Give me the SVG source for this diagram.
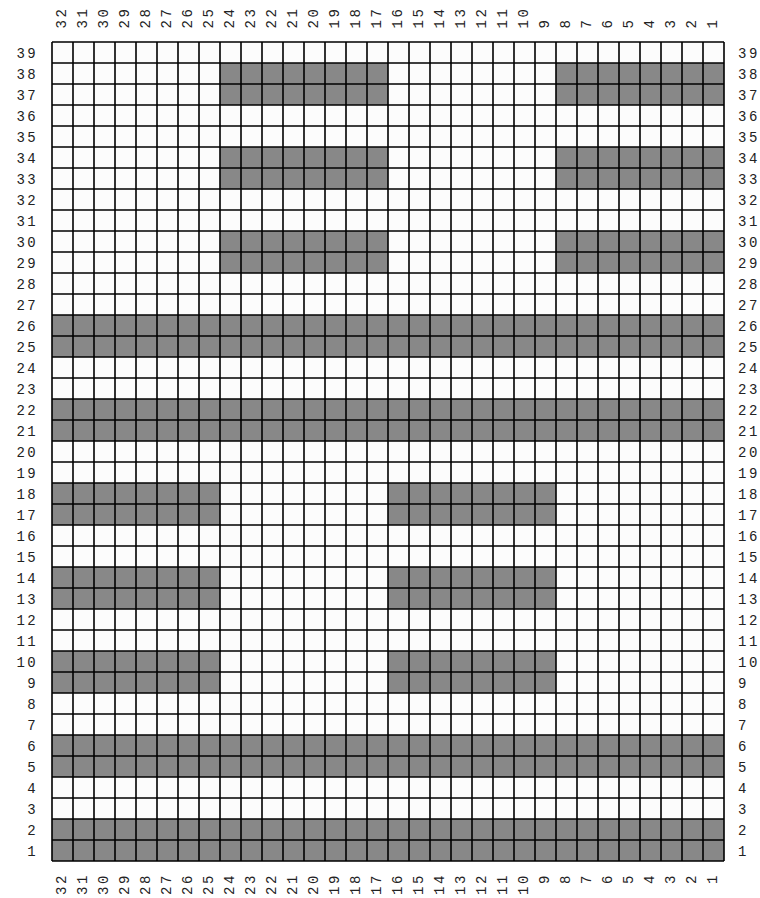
<svg xmlns="http://www.w3.org/2000/svg" width="760" height="898" viewBox="0 0 760 898">
<style>
.lbl{font-family:"Liberation Mono","DejaVu Sans Mono",monospace;font-size:14px;letter-spacing:2.5px;fill:#222}
.on{fill:#888888}
.grid{stroke:#000;stroke-width:1.6;fill:none}
</style>
<rect x="0" y="0" width="760" height="898" fill="#ffffff"/>
<g id="board">
<rect x="52" y="42" width="672" height="819" fill="#fcfcfc"/>
<g id="filled">
<rect class="on" x="220" y="63" width="168" height="42"/>
<rect class="on" x="556" y="63" width="168" height="42"/>
<rect class="on" x="220" y="147" width="168" height="42"/>
<rect class="on" x="556" y="147" width="168" height="42"/>
<rect class="on" x="220" y="231" width="168" height="42"/>
<rect class="on" x="556" y="231" width="168" height="42"/>
<rect class="on" x="52" y="315" width="672" height="42"/>
<rect class="on" x="52" y="399" width="672" height="42"/>
<rect class="on" x="52" y="483" width="168" height="42"/>
<rect class="on" x="388" y="483" width="168" height="42"/>
<rect class="on" x="52" y="567" width="168" height="42"/>
<rect class="on" x="388" y="567" width="168" height="42"/>
<rect class="on" x="52" y="651" width="168" height="42"/>
<rect class="on" x="388" y="651" width="168" height="42"/>
<rect class="on" x="52" y="735" width="672" height="42"/>
<rect class="on" x="52" y="819" width="672" height="42"/>
</g>
<path class="grid" d="M52 42V861M73 42V861M94 42V861M115 42V861M136 42V861M157 42V861M178 42V861M199 42V861M220 42V861M241 42V861M262 42V861M283 42V861M304 42V861M325 42V861M346 42V861M367 42V861M388 42V861M409 42V861M430 42V861M451 42V861M472 42V861M493 42V861M514 42V861M535 42V861M556 42V861M577 42V861M598 42V861M619 42V861M640 42V861M661 42V861M682 42V861M703 42V861M724 42V861M52 42H724M52 63H724M52 84H724M52 105H724M52 126H724M52 147H724M52 168H724M52 189H724M52 210H724M52 231H724M52 252H724M52 273H724M52 294H724M52 315H724M52 336H724M52 357H724M52 378H724M52 399H724M52 420H724M52 441H724M52 462H724M52 483H724M52 504H724M52 525H724M52 546H724M52 567H724M52 588H724M52 609H724M52 630H724M52 651H724M52 672H724M52 693H724M52 714H724M52 735H724M52 756H724M52 777H724M52 798H724M52 819H724M52 840H724M52 861H724"/>
</g>
<g id="row-labels-left" class="lbl">
<text x="16.4" y="57.5">39</text><text x="16.4" y="78.5">38</text><text x="16.4" y="99.5">37</text><text x="16.4" y="120.5">36</text><text x="16.4" y="141.5">35</text><text x="16.4" y="162.5">34</text><text x="16.4" y="183.5">33</text><text x="16.4" y="204.5">32</text><text x="16.4" y="225.5">31</text><text x="16.4" y="246.5">30</text><text x="16.4" y="267.5">29</text><text x="16.4" y="288.5">28</text><text x="16.4" y="309.5">27</text><text x="16.4" y="330.5">26</text><text x="16.4" y="351.5">25</text><text x="16.4" y="372.5">24</text><text x="16.4" y="393.5">23</text><text x="16.4" y="414.5">22</text><text x="16.4" y="435.5">21</text><text x="16.4" y="456.5">20</text><text x="16.4" y="477.5">19</text><text x="16.4" y="498.5">18</text><text x="16.4" y="519.5">17</text><text x="16.4" y="540.5">16</text><text x="16.4" y="561.5">15</text><text x="16.4" y="582.5">14</text><text x="16.4" y="603.5">13</text><text x="16.4" y="624.5">12</text><text x="16.4" y="645.5">11</text><text x="16.4" y="666.5">10</text><text x="27.3" y="687.5">9</text><text x="27.3" y="708.5">8</text><text x="27.3" y="729.5">7</text><text x="27.3" y="750.5">6</text><text x="27.3" y="771.5">5</text><text x="27.3" y="792.5">4</text><text x="27.3" y="813.5">3</text><text x="27.3" y="834.5">2</text><text x="27.3" y="855.5">1</text>
</g>
<g id="row-labels-right" class="lbl">
<text x="738" y="57.5">39</text><text x="738" y="78.5">38</text><text x="738" y="99.5">37</text><text x="738" y="120.5">36</text><text x="738" y="141.5">35</text><text x="738" y="162.5">34</text><text x="738" y="183.5">33</text><text x="738" y="204.5">32</text><text x="738" y="225.5">31</text><text x="738" y="246.5">30</text><text x="738" y="267.5">29</text><text x="738" y="288.5">28</text><text x="738" y="309.5">27</text><text x="738" y="330.5">26</text><text x="738" y="351.5">25</text><text x="738" y="372.5">24</text><text x="738" y="393.5">23</text><text x="738" y="414.5">22</text><text x="738" y="435.5">21</text><text x="738" y="456.5">20</text><text x="738" y="477.5">19</text><text x="738" y="498.5">18</text><text x="738" y="519.5">17</text><text x="738" y="540.5">16</text><text x="738" y="561.5">15</text><text x="738" y="582.5">14</text><text x="738" y="603.5">13</text><text x="738" y="624.5">12</text><text x="738" y="645.5">11</text><text x="738" y="666.5">10</text><text x="738" y="687.5">9</text><text x="738" y="708.5">8</text><text x="738" y="729.5">7</text><text x="738" y="750.5">6</text><text x="738" y="771.5">5</text><text x="738" y="792.5">4</text><text x="738" y="813.5">3</text><text x="738" y="834.5">2</text><text x="738" y="855.5">1</text>
</g>
<g id="col-labels-top" class="lbl">
<text transform="translate(65.5,28.5) rotate(-90)">32</text><text transform="translate(86.5,28.5) rotate(-90)">31</text><text transform="translate(107.5,28.5) rotate(-90)">30</text><text transform="translate(128.5,28.5) rotate(-90)">29</text><text transform="translate(149.5,28.5) rotate(-90)">28</text><text transform="translate(170.5,28.5) rotate(-90)">27</text><text transform="translate(191.5,28.5) rotate(-90)">26</text><text transform="translate(212.5,28.5) rotate(-90)">25</text><text transform="translate(233.5,28.5) rotate(-90)">24</text><text transform="translate(254.5,28.5) rotate(-90)">23</text><text transform="translate(275.5,28.5) rotate(-90)">22</text><text transform="translate(296.5,28.5) rotate(-90)">21</text><text transform="translate(317.5,28.5) rotate(-90)">20</text><text transform="translate(338.5,28.5) rotate(-90)">19</text><text transform="translate(359.5,28.5) rotate(-90)">18</text><text transform="translate(380.5,28.5) rotate(-90)">17</text><text transform="translate(401.5,28.5) rotate(-90)">16</text><text transform="translate(422.5,28.5) rotate(-90)">15</text><text transform="translate(443.5,28.5) rotate(-90)">14</text><text transform="translate(464.5,28.5) rotate(-90)">13</text><text transform="translate(485.5,28.5) rotate(-90)">12</text><text transform="translate(506.5,28.5) rotate(-90)">11</text><text transform="translate(527.5,28.5) rotate(-90)">10</text><text transform="translate(548.5,28.5) rotate(-90)">9</text><text transform="translate(569.5,28.5) rotate(-90)">8</text><text transform="translate(590.5,28.5) rotate(-90)">7</text><text transform="translate(611.5,28.5) rotate(-90)">6</text><text transform="translate(632.5,28.5) rotate(-90)">5</text><text transform="translate(653.5,28.5) rotate(-90)">4</text><text transform="translate(674.5,28.5) rotate(-90)">3</text><text transform="translate(695.5,28.5) rotate(-90)">2</text><text transform="translate(716.5,28.5) rotate(-90)">1</text>
</g>
<g id="col-labels-bottom" class="lbl">
<text transform="translate(65.5,894.9) rotate(-90)">32</text><text transform="translate(86.5,894.9) rotate(-90)">31</text><text transform="translate(107.5,894.9) rotate(-90)">30</text><text transform="translate(128.5,894.9) rotate(-90)">29</text><text transform="translate(149.5,894.9) rotate(-90)">28</text><text transform="translate(170.5,894.9) rotate(-90)">27</text><text transform="translate(191.5,894.9) rotate(-90)">26</text><text transform="translate(212.5,894.9) rotate(-90)">25</text><text transform="translate(233.5,894.9) rotate(-90)">24</text><text transform="translate(254.5,894.9) rotate(-90)">23</text><text transform="translate(275.5,894.9) rotate(-90)">22</text><text transform="translate(296.5,894.9) rotate(-90)">21</text><text transform="translate(317.5,894.9) rotate(-90)">20</text><text transform="translate(338.5,894.9) rotate(-90)">19</text><text transform="translate(359.5,894.9) rotate(-90)">18</text><text transform="translate(380.5,894.9) rotate(-90)">17</text><text transform="translate(401.5,894.9) rotate(-90)">16</text><text transform="translate(422.5,894.9) rotate(-90)">15</text><text transform="translate(443.5,894.9) rotate(-90)">14</text><text transform="translate(464.5,894.9) rotate(-90)">13</text><text transform="translate(485.5,894.9) rotate(-90)">12</text><text transform="translate(506.5,894.9) rotate(-90)">11</text><text transform="translate(527.5,894.9) rotate(-90)">10</text><text transform="translate(548.5,884) rotate(-90)">9</text><text transform="translate(569.5,884) rotate(-90)">8</text><text transform="translate(590.5,884) rotate(-90)">7</text><text transform="translate(611.5,884) rotate(-90)">6</text><text transform="translate(632.5,884) rotate(-90)">5</text><text transform="translate(653.5,884) rotate(-90)">4</text><text transform="translate(674.5,884) rotate(-90)">3</text><text transform="translate(695.5,884) rotate(-90)">2</text><text transform="translate(716.5,884) rotate(-90)">1</text>
</g>
</svg>
